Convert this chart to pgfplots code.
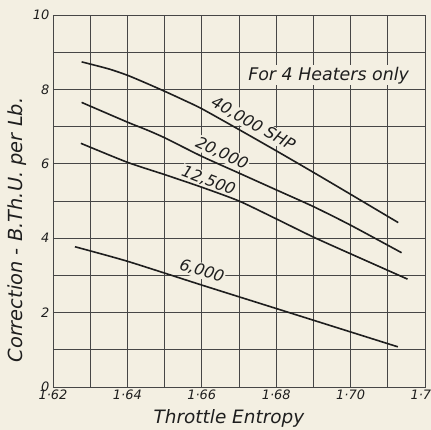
\documentclass[border=0pt]{standalone}
\usepackage{pgfplots}
\usepackage{pgfplotstable}
\pgfplotsset{compat=1.18}
\usepackage{fontspec}
\setmainfont{DejaVu Sans}
\definecolor{bg}{RGB}{243,239,226}
\definecolor{ink}{RGB}{30,30,30}
\definecolor{gridc}{RGB}{70,70,70}
\pagecolor{bg}

\pgfplotstableread{
x y
1.6277 8.74
1.635 8.55
1.640 8.38
1.645 8.17
1.650 7.95
1.655 7.72
1.660 7.48
1.670 6.92
1.680 6.35
1.690 5.77
1.700 5.18
1.7128 4.42
}\sfortyk

\pgfplotstableread{
x y
1.6277 7.65
1.640 7.12
1.645 6.92
1.650 6.70
1.660 6.20
1.670 5.75
1.680 5.30
1.690 4.85
1.700 4.35
1.7137 3.61
}\stwentyk

\pgfplotstableread{
x y
1.6275 6.55
1.640 6.04
1.650 5.71
1.660 5.37
1.670 5.00
1.680 4.52
1.690 4.03
1.700 3.58
1.7153 2.90
}\stwelvek

\pgfplotstableread{
x y
1.6259 3.77
1.640 3.38
1.660 2.74
1.680 2.11
1.700 1.48
1.7127 1.08
}\ssixk

\begin{document}
\begin{tikzpicture}[font=\itshape]
\begin{axis}[
  name=ax,
  scale only axis, width=372bp, height=372bp,
  xmin=1.62, xmax=1.72, ymin=0, ymax=10,
  xtick={1.62,1.64,1.66,1.68,1.70,1.72},
  xticklabels={1·62,1·64,1·66,1·68,1·70,1·72},
  minor xtick={1.63,1.65,1.67,1.69,1.71},
  ytick={0,2,4,6,8,10},
  yticklabels={0,2,4,6,8,10},
  minor ytick={1,3,5,7,9},
  grid=both,
  major grid style={gridc, line width=0.7bp},
  minor grid style={gridc, line width=0.7bp},
  major tick length=0pt, minor tick length=0pt,
  axis line style={gridc, line width=0.9bp},
  /pgf/number format/assume math mode=true,
  tick label style={font=\itshape\fontsize{13}{15}\selectfont, text=ink},
  xticklabel style={yshift=1bp},
  clip=false,
]
\node[fill=bg, inner sep=1.5bp, text=ink, font=\itshape\fontsize{17.5}{19}\selectfont] at (axis cs:1.6941,8.38) {For 4 Heaters only};
\node[fill=bg, inner sep=1bp, rotate=-29, text=ink, font=\itshape\fontsize{16}{18}\selectfont] at (axis cs:1.6738,7.07) {40,000 SHP};
\node[fill=bg, inner sep=1bp, rotate=-25, text=ink, font=\itshape\fontsize{16}{18}\selectfont] at (axis cs:1.6654,6.28) {20,000};
\node[fill=bg, inner sep=1bp, rotate=-21, text=ink, font=\itshape\fontsize{16}{18}\selectfont] at (axis cs:1.6618,5.54) {12,500};
\node[fill=bg, inner sep=1bp, rotate=-17, text=ink, font=\itshape\fontsize{16}{18}\selectfont] at (axis cs:1.6600,3.12) {6,000};

\addplot[ink, line width=1.6bp, smooth, tension=0.4] table {\sfortyk};
\addplot[ink, line width=1.6bp, smooth, tension=0.4] table {\stwentyk};
\addplot[ink, line width=1.6bp, smooth, tension=0.4] table {\stwelvek};
\addplot[ink, line width=1.6bp, smooth, tension=0.4] table {\ssixk};

\node[text=ink, font=\itshape\fontsize{18.5}{20}\selectfont] at ([yshift=-31bp]rel axis cs:0.473,0) {Throttle Entropy};
\node[text=ink, rotate=90, font=\itshape\fontsize{19.5}{21}\selectfont] at ([xshift=-36bp]rel axis cs:0,0.422) {Correction - B.Th.U. per Lb.};

\coordinate (sw) at (rel axis cs:0,0);
\coordinate (ne) at (rel axis cs:1,1);
\end{axis}
\pgfresetboundingbox
\path[use as bounding box] ([shift={(-53bp,-43bp)}]sw) rectangle ([shift={(6bp,15bp)}]ne);
\end{tikzpicture}
\end{document}
